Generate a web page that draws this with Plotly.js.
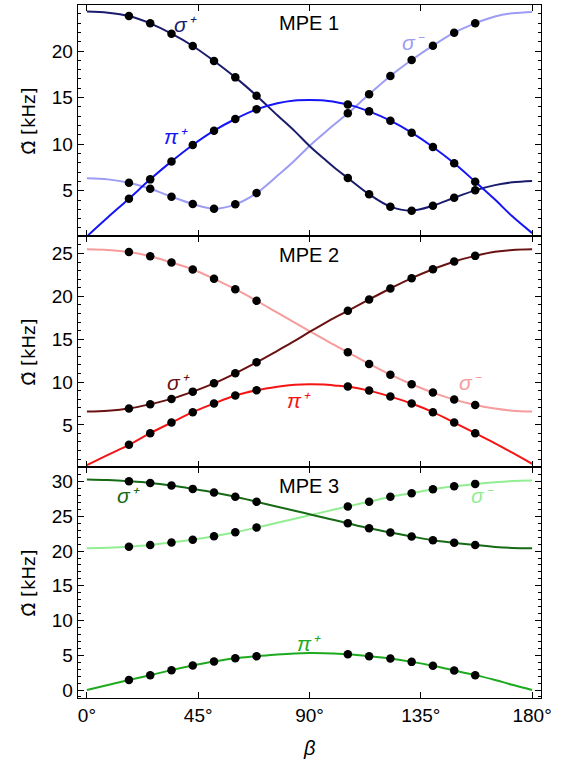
<!DOCTYPE html>
<html>
<head>
<meta charset="utf-8">
<script src="https://cdn.plot.ly/plotly-3.0.1.min.js"></script>
<style>body{margin:0;padding:0;background:#fff;} #chart{width:571px;height:764px;}</style>
</head>
<body>
<div id="chart"></div>
<script>
// ---- data ----
// beta grid (degrees) used for the smooth theory curves
const curveBeta = [0, 8.5, 17, 25.6, 34.2, 42.8, 51.4, 60, 68.6, 77, 84, 90, 96, 100, 105.5, 114.1, 122.7, 131.3, 139.9, 148.5, 157, 165, 172, 180];
// beta of the measured points (degrees)
const dotBeta = [17, 25.6, 34.2, 42.8, 51.4, 60, 68.6, 105.5, 114.1, 122.7, 131.3, 139.9, 148.5, 157];

// MPE 1 (kHz)
const mpe1SigmaPlusCurve  = [24.25, 24.12, 23.76, 22.97, 21.86, 20.54, 18.93, 17.17, 15.2, 13.1, 11.4, 9.8, 8.4, 7.5, 6.36, 4.61, 3.29, 2.86, 3.39, 4.25, 5.04, 5.6, 5.9, 6.05];
const mpe1SigmaMinusCurve = [6.35, 6.22, 5.86, 5.22, 4.36, 3.57, 3.07, 3.54, 4.75, 6.6, 8.25, 9.8, 11.2, 12.1, 13.31, 15.35, 17.32, 19.03, 20.57, 21.97, 22.97, 23.7, 24.05, 24.2];
const mpe1PiPlusCurve     = [0.1, 2.15, 4.14, 6.22, 8.15, 9.91, 11.45, 12.7, 13.74, 14.4, 14.7, 14.75, 14.7, 14.55, 14.27, 13.52, 12.52, 11.23, 9.69, 7.94, 5.97, 4.05, 2.25, 0.45];
const mpe1SigmaPlusDots   = [23.76, 22.97, 21.86, 20.54, 18.93, 17.17, 15.2, 6.36, 4.61, 3.29, 2.86, 3.39, 4.25, 5.04];
const mpe1SigmaMinusDots  = [5.86, 5.22, 4.36, 3.57, 3.07, 3.54, 4.75, 13.31, 15.35, 17.32, 19.03, 20.57, 21.97, 22.97];
const mpe1PiPlusDots      = [4.14, 6.22, 8.15, 9.91, 11.45, 12.7, 13.74, 14.27, 13.52, 12.52, 11.23, 9.69, 7.94, 5.97];

// MPE 2 (kHz)
const mpe2SigmaPlusCurve  = [6.55, 6.65, 6.9, 7.41, 8.03, 8.88, 9.85, 11.02, 12.3, 13.65, 14.8, 15.85, 16.85, 17.5, 18.32, 19.64, 20.92, 22.13, 23.17, 24.07, 24.73, 25.2, 25.42, 25.5];
const mpe2SigmaMinusCurve = [25.5, 25.42, 25.19, 24.69, 23.95, 23.14, 22.05, 20.84, 19.49, 18.1, 16.95, 15.95, 14.98, 14.33, 13.47, 12.11, 10.86, 9.74, 8.77, 7.95, 7.33, 6.9, 6.65, 6.55];
const mpe2PiPlusCurve     = [0.3, 1.5, 2.67, 4.03, 5.27, 6.48, 7.49, 8.42, 9.04, 9.45, 9.68, 9.74, 9.7, 9.6, 9.47, 9.0, 8.3, 7.49, 6.48, 5.27, 4.03, 2.85, 1.75, 0.45];
const mpe2SigmaPlusDots   = [6.9, 7.41, 8.03, 8.88, 9.85, 11.02, 12.3, 18.32, 19.64, 20.92, 22.13, 23.17, 24.07, 24.73];
const mpe2SigmaMinusDots  = [25.19, 24.69, 23.95, 23.14, 22.05, 20.84, 19.49, 13.47, 12.11, 10.86, 9.74, 8.77, 7.95, 7.33];
const mpe2PiPlusDots      = [2.67, 4.03, 5.27, 6.48, 7.49, 8.42, 9.04, 9.47, 9.0, 8.3, 7.49, 6.48, 5.27, 4.03];

// MPE 3 (kHz)
const mpe3SigmaPlusCurve  = [30.3, 30.22, 30.05, 29.81, 29.43, 28.95, 28.43, 27.81, 27.1, 26.39, 25.81, 25.3, 24.8, 24.46, 24.0, 23.29, 22.67, 22.1, 21.57, 21.19, 20.86, 20.6, 20.45, 20.4];
const mpe3SigmaMinusCurve = [20.4, 20.47, 20.62, 20.86, 21.24, 21.62, 22.14, 22.71, 23.38, 24.07, 24.65, 25.15, 25.64, 25.98, 26.43, 27.1, 27.81, 28.33, 28.9, 29.33, 29.67, 29.92, 30.07, 30.14];
const mpe3PiPlusCurve     = [0.0, 0.72, 1.43, 2.14, 2.86, 3.52, 4.1, 4.57, 4.86, 5.12, 5.27, 5.32, 5.3, 5.24, 5.14, 4.86, 4.52, 4.05, 3.48, 2.81, 2.14, 1.45, 0.75, 0.0];
const mpe3SigmaPlusDots   = [30.05, 29.81, 29.43, 28.95, 28.43, 27.81, 27.1, 24.0, 23.29, 22.67, 22.1, 21.57, 21.19, 20.86];
const mpe3SigmaMinusDots  = [20.62, 20.86, 21.24, 21.62, 22.14, 22.71, 23.38, 26.43, 27.1, 27.81, 28.33, 28.9, 29.33, 29.67];
const mpe3PiPlusDots      = [1.43, 2.14, 2.86, 3.52, 4.1, 4.57, 4.86, 5.14, 4.86, 4.52, 4.05, 3.48, 2.81, 2.14];

const panelNames = ['MPE 1', 'MPE 2', 'MPE 3'];
const seriesLabels = ['σ⁺', 'π⁺', 'σ⁻'];
const xTickLabels = ['0°', '45°', '90°', '135°', '180°'];
const yTitle = 'Ω̃ [kHz]';
const xTitle = 'β';

// ---- styling ----
const colors = [
  {sp: '#1b1b6e', pi: '#1515f5', sm: '#9d9cf5'},
  {sp: '#6a1212', pi: '#f51414', sm: '#f69c9c'},
  {sp: '#166a16', pi: '#1eaa1e', sm: '#93ee93'}
];
const FONT = 'Liberation Sans, Arial, sans-serif';

const panels = [
  {sp: mpe1SigmaPlusCurve, sm: mpe1SigmaMinusCurve, pi: mpe1PiPlusCurve, dsp: mpe1SigmaPlusDots, dsm: mpe1SigmaMinusDots, dpi: mpe1PiPlusDots},
  {sp: mpe2SigmaPlusCurve, sm: mpe2SigmaMinusCurve, pi: mpe2PiPlusCurve, dsp: mpe2SigmaPlusDots, dsm: mpe2SigmaMinusDots, dpi: mpe2PiPlusDots},
  {sp: mpe3SigmaPlusCurve, sm: mpe3SigmaMinusCurve, pi: mpe3PiPlusCurve, dsp: mpe3SigmaPlusDots, dsm: mpe3SigmaMinusDots, dpi: mpe3PiPlusDots}
];

const traces = [];
panels.forEach((p, i) => {
  const xa = i === 0 ? 'x' : 'x' + (i + 1);
  const ya = i === 0 ? 'y' : 'y' + (i + 1);
  const c = colors[i];
  [['sm', c.sm], ['sp', c.sp], ['pi', c.pi]].forEach(([k, col]) => {
    traces.push({x: curveBeta, y: p[k], xaxis: xa, yaxis: ya, mode: 'lines',
      line: {color: col, width: 2, shape: 'spline', smoothing: 1}, hoverinfo: 'skip'});
  });
  ['dsp', 'dsm', 'dpi'].forEach(k => {
    traces.push({x: dotBeta, y: p[k], xaxis: xa, yaxis: ya, mode: 'markers',
      marker: {color: '#000', size: 8.5}, hoverinfo: 'skip'});
  });
});

const yRanges = [[0.14, 24.94], [0.08, 27.05], [-1.15, 32.1]];
const domains = [[2/3, 1], [1/3, 2/3], [0, 1/3]];

const layout = {
  width: 571, height: 764,
  margin: {l: 78, r: 30, t: 5, b: 66},
  paper_bgcolor: '#fff', plot_bgcolor: '#fff',
  showlegend: false,
  font: {family: FONT, size: 19, color: '#000'},
  annotations: []
};

for (let i = 0; i < 3; i++) {
  const sfx = i === 0 ? '' : String(i + 1);
  layout['xaxis' + sfx] = {
    domain: [0, 1], anchor: 'y' + sfx, range: [-3.6, 183.6],
    tickmode: 'array', tickvals: [0, 45, 90, 135, 180], ticktext: xTickLabels,
    showticklabels: i === 2, ticks: 'inside', ticklen: 6, tickwidth: 1, tickcolor: '#000',
    showline: true, linecolor: '#000', linewidth: 1.3, mirror: 'ticks',
    showgrid: false, zeroline: false, tickfont: {family: FONT, size: 19, color: '#000'}
  };
  layout['yaxis' + sfx] = {
    domain: domains[i], anchor: 'x' + sfx, range: yRanges[i],
    tickmode: 'linear', tick0: 0, dtick: 5,
    ticks: 'inside', ticklen: 6, tickwidth: 1, tickcolor: '#000',
    minor: {tickmode: 'linear', tick0: 0, dtick: 1, ticks: 'inside', ticklen: 3, tickwidth: 1, tickcolor: '#000', showgrid: false},
    showline: true, linecolor: '#000', linewidth: 1.3, mirror: 'ticks',
    showgrid: false, zeroline: false, tickfont: {family: FONT, size: 19, color: '#000'}
  };
  // y-axis title
  layout.annotations.push({
    xref: 'paper', yref: 'paper', x: -0.106, y: (domains[i][0] + domains[i][1]) / 2,
    text: yTitle, textangle: -90, showarrow: false, xanchor: 'center', yanchor: 'middle',
    font: {family: 'DejaVu Sans, Liberation Sans, sans-serif', size: 18, color: '#000'}
  });
}

// panel names
const namePos = [[89.7, 23.0, 'x', 'y'], [89.7, 24.8, 'x2', 'y2'], [89.7, 29.4, 'x3', 'y3']];
namePos.forEach((p, i) => {
  layout.annotations.push({x: p[0], y: p[1], xref: p[2], yref: p[3], text: panelNames[i],
    showarrow: false, font: {family: FONT, size: 20, color: '#000'}});
});

// series labels: [x, y, panel, series index, colour key]
const labelPos = [
  [39.8, 22.8, 0, 0, 'sp'], [36.1, 10.8, 0, 1, 'pi'], [132, 20.9, 0, 2, 'sm'],
  [36.9, 9.93, 1, 0, 'sp'], [85.9, 7.9, 1, 1, 'pi'], [154.9, 9.93, 1, 2, 'sm'],
  [17, 27.95, 2, 0, 'sp'], [89.7, 6.76, 2, 1, 'pi'], [160, 27.95, 2, 2, 'sm']
];
labelPos.forEach(l => {
  const sfx = l[2] === 0 ? '' : String(l[2] + 1);
  layout.annotations.push({x: l[0], y: l[1], xref: 'x' + sfx, yref: 'y' + sfx,
    text: seriesLabels[l[3]], showarrow: false,
    font: {family: FONT, size: 21, style: 'italic', color: colors[l[2]][l[4]]}});
});

// x-axis title
layout.annotations.push({xref: 'x3', yref: 'paper', x: 89.7, y: -0.072, text: xTitle,
  showarrow: false, yanchor: 'middle', font: {family: FONT, size: 20, style: 'italic', color: '#000'}});

Plotly.newPlot('chart', traces, layout, {staticPlot: true});
</script>
</body>
</html>
